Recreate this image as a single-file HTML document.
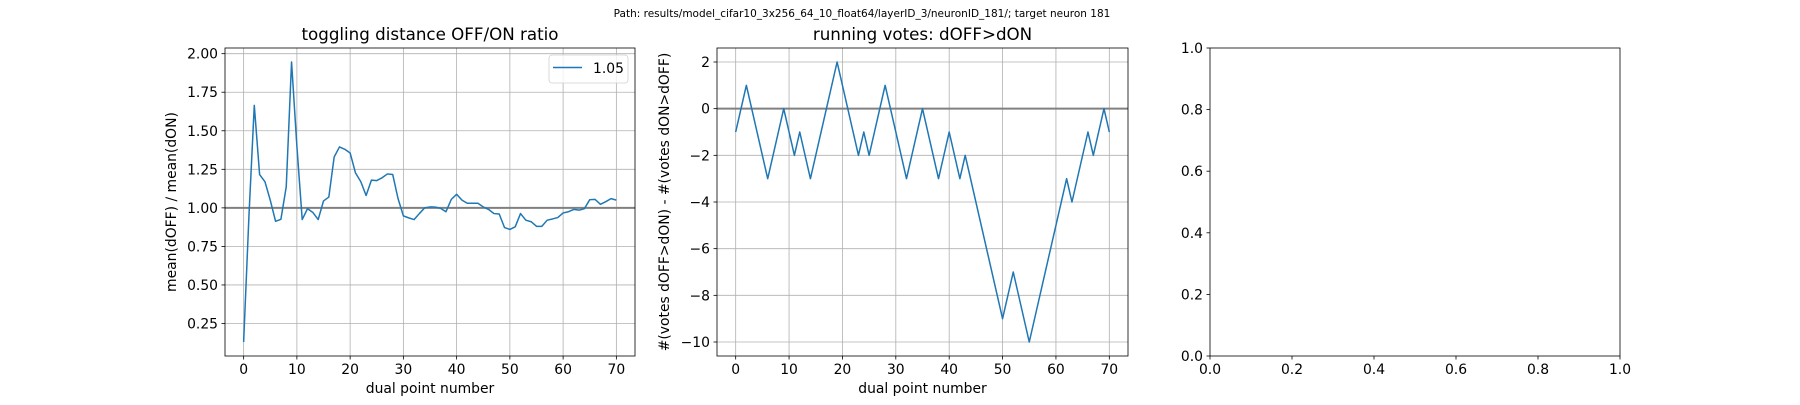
<!DOCTYPE html>
<html><head><meta charset="utf-8">
<style>
html,body{margin:0;padding:0;background:#fff;}
svg text{font-family:"DejaVu Sans","Liberation Sans",sans-serif;fill:#000;}
</style></head>
<body>
<svg id="fig" width="1800" height="400" viewBox="0 0 1800 400" xmlns="http://www.w3.org/2000/svg">
<rect width="1800" height="400" fill="#fff"/>
<text x="862" y="17" font-size="10.5" text-anchor="middle">Path: results/model_cifar10_3x256_64_10_float64/layerID_3/neuronID_181/; target neuron 181</text>
<g id="ax1"></g>
<g id="ax2"></g>
<g id="ax3"></g>
</svg>
<script>
const ratioValues=[0.13,0.95,1.665,1.216,1.17,1.05,0.913,0.926,1.136,1.946,1.40,0.924,0.995,0.97,0.924,1.045,1.07,1.33,1.395,1.38,1.356,1.227,1.17,1.08,1.18,1.177,1.195,1.22,1.216,1.06,0.948,0.935,0.924,0.963,1.0,1.006,1.005,0.997,0.975,1.055,1.088,1.05,1.03,1.03,1.03,1.006,0.99,0.963,0.96,0.872,0.86,0.877,0.963,0.92,0.91,0.88,0.88,0.92,0.928,0.937,0.967,0.975,0.99,0.985,0.995,1.053,1.055,1.023,1.04,1.06,1.05];
const ratioYTicks=[0.25,0.5,0.75,1.0,1.25,1.5,1.75,2.0];
const xTicks=[0,10,20,30,40,50,60,70];
const votePeakX=[0,2,6,9,11,12,14,19,23,24,25,28,32,35,38,40,42,43,50,52,55,62,63,66,67,69,70];
const votePeakY=[-1,1,-3,0,-2,-1,-3,2,-2,-1,-2,1,-3,0,-3,-1,-3,-2,-9,-7,-10,-3,-4,-1,-2,0,-1];
const voteYTicks=[-10,-8,-6,-4,-2,0,2];
const emptyTicks=[0,0.2,0.4,0.6,0.8,1.0];
const legendLabel="1.05";

const NS="http://www.w3.org/2000/svg";
function el(tag,attrs,parent){const e=document.createElementNS(NS,tag);for(const k in attrs)e.setAttribute(k,attrs[k]);parent.appendChild(e);return e;}
const TOP=48,BOT=356;
function axes(g,L,R,xmin,xmax,ymin,ymax,grid){
  const sx=v=>L+(v-xmin)/(xmax-xmin)*(R-L);
  const sy=v=>BOT-(v-ymin)/(ymax-ymin)*(BOT-TOP);
  return {sx,sy};
}
function drawTicks(g,ax,L,R,xt,yt,fmtX,fmtY,grid){
  xt.forEach(v=>{const x=ax.sx(v);
    if(grid){const l=el('line',{x1:x,x2:x,y1:TOP,y2:BOT,stroke:'#b0b0b0','stroke-width':0.8},g);}
    el('line',{x1:x,x2:x,y1:BOT,y2:BOT+3.5,stroke:'#000','stroke-width':0.8},g);
    const t=el('text',{x:x,y:BOT+18,'font-size':13.9,'text-anchor':'middle'},g);t.textContent=fmtX(v);
    });
  yt.forEach(v=>{const y=ax.sy(v);
    if(grid){const l=el('line',{x1:L,x2:R,y1:y,y2:y,stroke:'#b0b0b0','stroke-width':0.8},g);}
    el('line',{x1:L-3.5,x2:L,y1:y,y2:y,stroke:'#000','stroke-width':0.8},g);
    const t=el('text',{x:L-7,y:y+5,'font-size':13.9,'text-anchor':'end'},g);t.textContent=fmtY(v);
    });
}
function frame(g,L,R){const r=el('rect',{x:L,y:TOP,width:R-L,height:BOT-TOP,fill:'none',stroke:'#000','stroke-width':0.8},g);}
function text(g,x,y,s,size,name,rot){const t=el('text',{x:x,y:y,'font-size':size,'text-anchor':'middle'},g);if(rot)t.setAttribute('transform',`rotate(-90 ${x} ${y})`);t.textContent=s;}
const minus=s=>String(s).replace('-','\u2212');

// Axes 1
{const g=document.getElementById('ax1');const L=225,R=635;
 const mn=Math.min(...ratioValues),mx=Math.max(...ratioValues),m=(mx-mn)*0.05;
 const ax=axes(g,L,R,-3.5,73.5,mn-m,mx+m);
 drawTicks(g,ax,L,R,xTicks,ratioYTicks,v=>v,v=>v.toFixed(2),true);
 const h=el('line',{x1:L,x2:R,y1:ax.sy(1),y2:ax.sy(1),stroke:'#808080','stroke-width':2},g);
 const p=el('polyline',{points:ratioValues.map((v,i)=>ax.sx(i)+','+ax.sy(v)).join(' '),fill:'none',stroke:'#1f77b4','stroke-width':1.5,'stroke-linejoin':'round'},g);
 
 frame(g,L,R);
 text(g,(L+R)/2,40,'toggling distance OFF/ON ratio',16.7,'chart-title');
 text(g,(L+R)/2,393,'dual point number',13.9,'x-axis-title');
 text(g,176,(TOP+BOT)/2,'mean(dOFF) / mean(dON)',13.9,'y-axis-title',true);
 const lg=el('g',{},g);
 el('rect',{x:549,y:55,width:79,height:28,rx:3,fill:'#fff','fill-opacity':0.8,stroke:'#d0d0d0','stroke-width':0.8},lg);
 el('line',{x1:553,x2:582,y1:67.5,y2:67.5,stroke:'#1f77b4','stroke-width':1.5},lg);
 const lt=el('text',{x:593,y:73,'font-size':13.9},lg);lt.textContent=legendLabel;
}
// Axes 2
{const g=document.getElementById('ax2');const L=717,R=1128;
 const mn=Math.min(...votePeakY),mx=Math.max(...votePeakY),m=(mx-mn)*0.05;
 const ax=axes(g,L,R,-3.5,73.5,mn-m,mx+m);
 drawTicks(g,ax,L,R,xTicks,voteYTicks,v=>v,minus,true);
 const h=el('line',{x1:L,x2:R,y1:ax.sy(0),y2:ax.sy(0),stroke:'#808080','stroke-width':2},g);
 const p=el('polyline',{points:votePeakX.map((x,i)=>ax.sx(x)+','+ax.sy(votePeakY[i])).join(' '),fill:'none',stroke:'#1f77b4','stroke-width':1.5,'stroke-linejoin':'round'},g);
 
 frame(g,L,R);
 text(g,(L+R)/2,40,'running votes: dOFF>dON',16.7,'chart-title');
 text(g,(L+R)/2,393,'dual point number',13.9,'x-axis-title');
 text(g,669,(TOP+BOT)/2,'#(votes dOFF>dON) - #(votes dON>dOFF)',13.9,'y-axis-title',true);
}
// Axes 3
{const g=document.getElementById('ax3');const L=1210,R=1620;
 const ax=axes(g,L,R,0,1,0,1);
 drawTicks(g,ax,L,R,emptyTicks,emptyTicks,v=>v.toFixed(1),v=>v.toFixed(1),false);
 frame(g,L,R);
}
</script>
</body></html>
